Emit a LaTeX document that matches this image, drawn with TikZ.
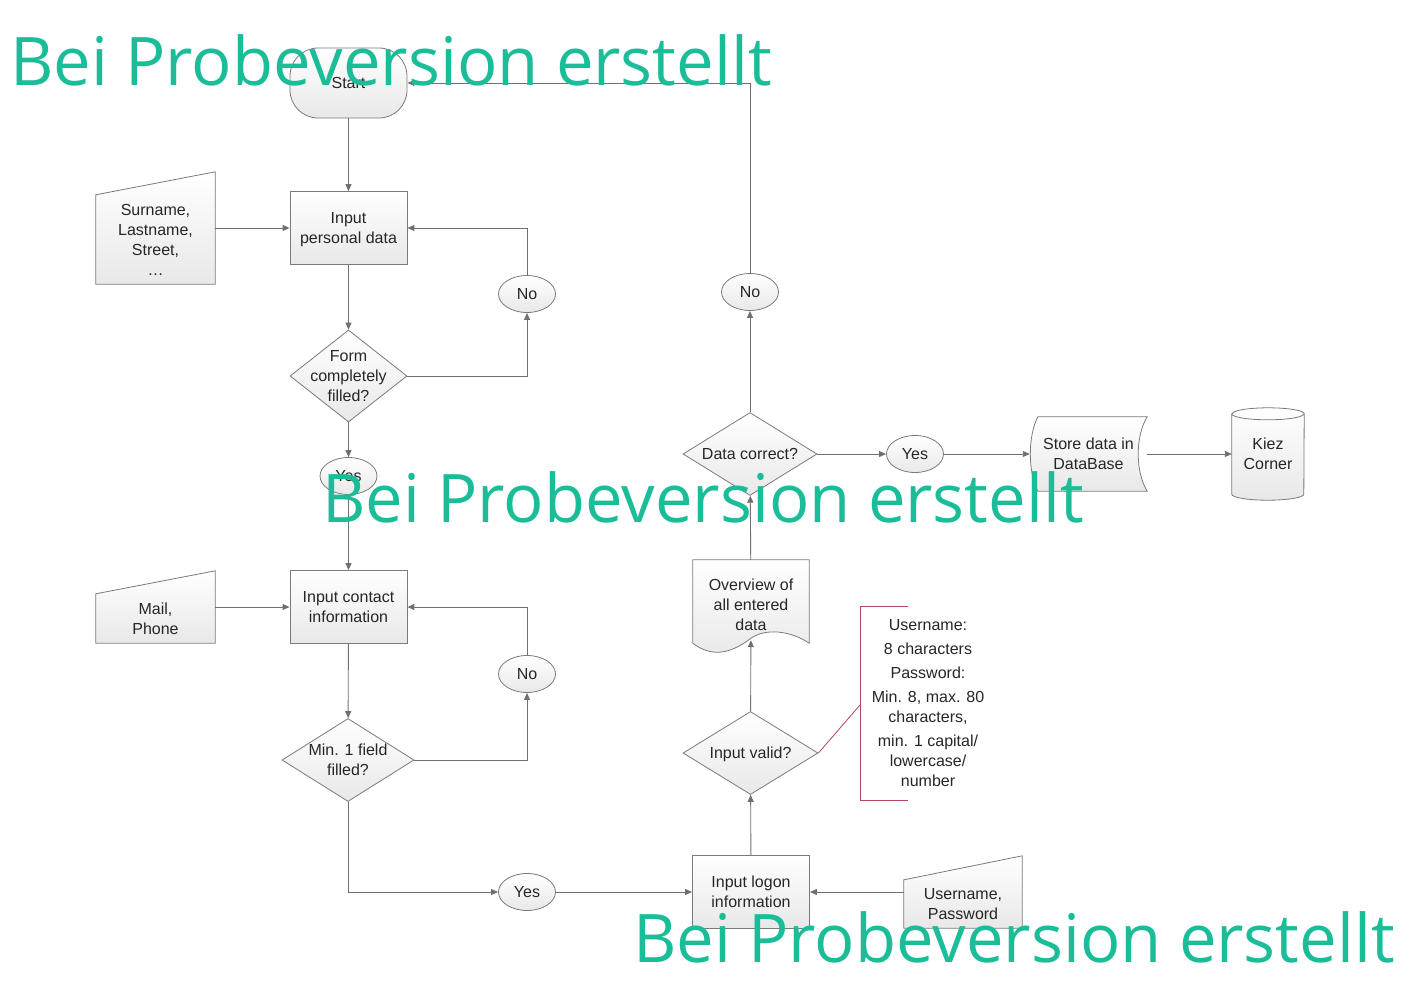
\documentclass[tikz,border=0pt]{standalone}
\usepackage{fontspec}
\setmainfont{Liberation Sans}
\newfontfamily\markfont{Open Sans}
\usetikzlibrary{calc,positioning,shapes.geometric,arrows.meta,backgrounds}

\definecolor{linegray}{RGB}{112,112,112}
\definecolor{edgegray}{RGB}{122,122,122}
\definecolor{notered}{RGB}{176,72,92}
\definecolor{markgreen}{RGB}{27,189,152}

\tikzset{
  boxtext/.style={font=\fontsize{16}{20}\selectfont,text=black!85,align=center},
  shapebox/.style={draw=edgegray,line width=0.8pt,top color=white,bottom color=black!9},
  procbox/.style={shapebox,boxtext,rectangle,minimum width=117,minimum height=73,inner sep=2pt},
  terminal/.style={procbox,rounded corners=28pt,minimum height=70},
  decision/.style 2 args={diamond,shapebox,minimum width=#1,minimum height=#2,inner sep=0},
  answer/.style={ellipse,shapebox,boxtext,minimum width=57,minimum height=37,inner sep=1pt},
  manualin/.style={rectangle,minimum width=119,inner sep=0},
  plainbox/.style={rectangle,boxtext,inner sep=0},
  flow/.style={-{Triangle[length=7pt,width=6pt]},draw=linegray,line width=0.9pt},
  annot/.style={draw=notered,line width=0.8pt},
  notetext/.style={boxtext,font=\fontsize{16}{20}\selectfont},
  watermark/.style={anchor=base west,inner sep=0,text=markgreen,font=\markfont\fontsize{67}{70}\selectfont}
}

\begin{document}
\begin{tikzpicture}[x=1pt,y=-1pt]
\useasboundingbox (0,0) rectangle (1404,993);
% left column
\node[terminal] (start) at (348.5,83) {Start};
\node[procbox] (pers) at (348.5,228) [text depth=-2pt] {Input\\personal data};
\node[decision={117}{92}] (form) at (348.5,376) [label={[boxtext]center:Form\\completely\\filled?}] {};
\node[answer] (yesA) at (348.5,476) {Yes};
\node[procbox] (contact) at (348.5,607) {Input contact\\information};
\node[decision={132}{83}] (minf) at (348,760) [label={[boxtext]center:Min. 1 field\\filled?}] {};
\node[answer] (noA) at (527,294) {No};
\node[answer] (noB) at (527,674) {No};
\node[answer] (yesB) at (527,892) {Yes};
\node[manualin,minimum height=112] (surname) at (155.5,228) [label={[boxtext,yshift=-12pt]center:Surname,\\Lastname,\\Street,\\\dots}] {};
\node[manualin,minimum height=72] (mail) at (155.5,607) [label={[boxtext,yshift=-12pt]center:Mail,\\Phone}] {};
% right column
\node[procbox] (logon) at (751,892) {Input logon\\information};
\node[manualin,minimum width=118,minimum height=72] (userpw) at (963,892) [label={[boxtext,yshift=-12pt]center:Username,\\Password}] {};
\node[decision={135}{83}] (valid) at (750.5,753) [label={[boxtext,yshift=-1pt]center:Input valid?}] {};
\node[rectangle,minimum width=116,minimum height=80,inner sep=0] (overview) at (751,600) [label={[boxtext,yshift=-5pt]center:Overview of\\all entered\\data}] {};
\node[decision={134}{83}] (correct) at (750,454) [label={[boxtext]center:Data correct?}] {};
\node[answer] (noC) at (750,292) {No};
\node[answer] (yesC) at (915,454) {Yes};
\node[plainbox,minimum width=117,minimum height=74] (store) at (1088.5,454) {Store data in\\DataBase};
\node[plainbox,minimum width=72,minimum height=92] (kiez) at (1268,454) {Kiez\\Corner};
\node[notetext] (note) at (928,703) {Username:\\[4pt]8 characters\\[4pt]Password:\\[4pt]Min. 8, max. 80\\characters,\\[4pt]min. 1 capital/\\lowercase/\\number};
\coordinate (brk) at (860,705);

% shapes drawn by hand
\begin{pgfonlayer}{background}
\path[shapebox] (surname.south west) -- (surname.south east) -- (surname.north east)
  -- ($(surname.north west)+(0,23)$) -- cycle;
\path[shapebox] (mail.south west) -- (mail.south east) -- (mail.north east)
  -- ($(mail.north west)+(0,23)$) -- cycle;
\path[shapebox] (userpw.south west) -- (userpw.south east) -- (userpw.north east)
  -- ($(userpw.north west)+(0,24)$) -- cycle;
\path[shapebox] (overview.north west) -- (overview.north east) -- ($(overview.south east)+(0,3)$)
  .. controls ($(overview.south)+(39,-10)$) and ($(overview.south)+(14,-12)$) .. ($(overview.south)+(0,-2)$)
  .. controls ($(overview.south)+(-16,10)$) and ($(overview.south)+(-36,20)$) .. ($(overview.south west)+(0,3)$) -- cycle;
\path[shapebox] ($(store.north west)+(8,0)$) -- (store.north east)
  .. controls ($(store.east)+(-12,-18)$) and ($(store.east)+(-12,18)$) .. (store.south east)
  -- ($(store.south west)+(8,0)$)
  .. controls ($(store.west)+(-2,18)$) and ($(store.west)+(-2,-18)$) .. ($(store.north west)+(8,0)$) -- cycle;
\path[shapebox] ($(kiez.north west)+(0,6)$) -- ($(kiez.south west)+(0,-6)$)
  arc[start angle=180,end angle=360,x radius=36pt,y radius=6pt]
  -- ($(kiez.north east)+(0,6)$)
  arc[start angle=0,end angle=180,x radius=36pt,y radius=6pt] -- cycle;
\draw[draw=edgegray,line width=0.8pt] ($(kiez.north west)+(0,6)$)
  arc[start angle=180,end angle=360,x radius=36pt,y radius=6pt];
\end{pgfonlayer}

% connectors
\draw[flow] (start) -- (pers);
\draw[flow] (surname) -- (pers);
\draw[flow] (pers) -- (form);
\draw[flow] (form.east) -| (noA);
\draw[flow] (noA) |- (pers);
\draw[flow] (form) -- (yesA);
\draw[flow] (yesA) -- (contact);
\draw[flow] (mail) -- (contact);
\draw[flow] (contact) -- (minf);
\draw[flow] (minf.east) -| (noB);
\draw[flow] (noB) |- (contact);
\draw[flow] (minf) |- (yesB);
\draw[flow] (yesB) -- (logon);
\draw[flow] (userpw) -- (logon);
\draw[flow] (logon) -- (valid);
\draw[flow] (valid) -- (overview);
\draw[flow] (overview) -- (correct);
\draw[flow] (correct) -- (noC);
\draw[flow] (noC) |- (start);
\draw[flow] (correct) -- (yesC);
\draw[flow] (yesC) -- (store);
\draw[flow] (store) -- (kiez);
% note bracket
\draw[annot] (908,606) -- (860,606) -- (860,800) -- (908,800);
\draw[annot] (valid.east) -- (brk);

% watermarks
\node[watermark] (markA) at (10,85) {Bei Probeversion erstellt};
\node[watermark] (markB) at (322,522) {Bei Probeversion erstellt};
\node[watermark] (markC) at (633,962) {Bei Probeversion erstellt};
\end{tikzpicture}
\end{document}
